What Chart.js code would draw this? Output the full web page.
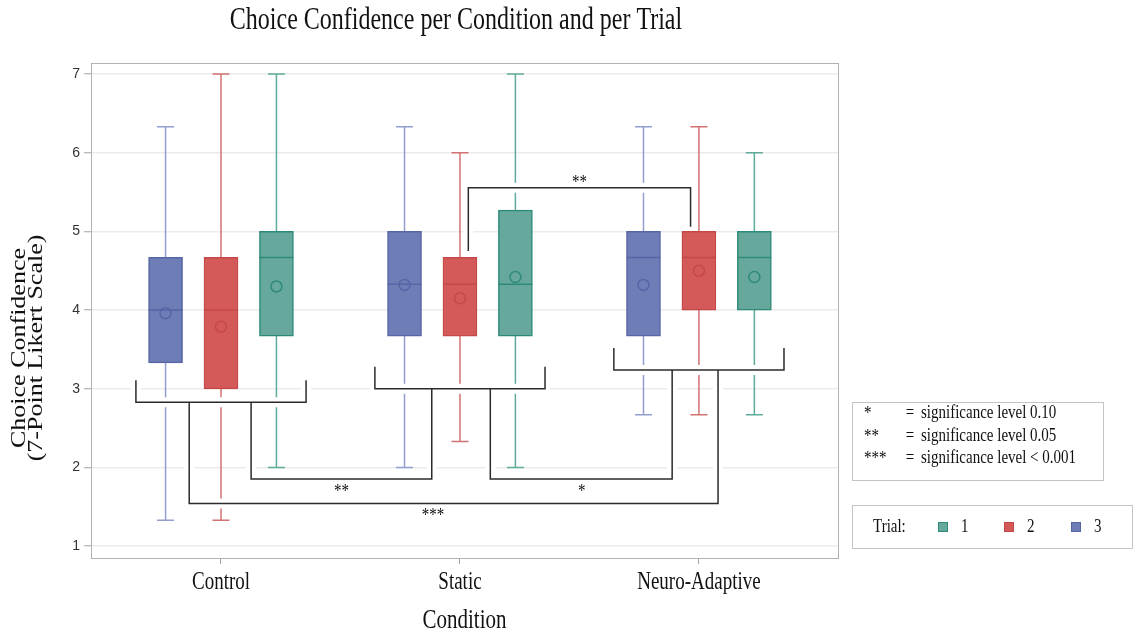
<!DOCTYPE html>
<html>
<head>
<meta charset="utf-8">
<script src="https://cdn.jsdelivr.net/npm/chart.js@4/dist/chart.umd.min.js"></script>
<style>
  html, body { margin: 0; padding: 0; background: #fff; }
  #wrap { width: 1133px; height: 631px; position: relative; }
</style>
</head>
<body>
<div id="wrap"><canvas id="chart"></canvas></div>
<script>
const CONDITIONS = ["Control", "Static", "Neuro-Adaptive"];
const TRIALS = ["1", "2", "3"];
const Y_TICKS = [1, 2, 3, 4, 5, 6, 7];

// box summaries per trial, one value per condition
const T1_MIN = [2.0, 2.0, 2.67];
const T1_Q1 = [3.67, 3.67, 4.0];
const T1_MED = [4.67, 4.33, 4.67];
const T1_Q3 = [5.0, 5.27, 5.0];
const T1_MAX = [7.0, 7.0, 6.0];
const T1_MEAN = [4.30, 4.42, 4.42];

const T2_MIN = [1.33, 2.33, 2.67];
const T2_Q1 = [3.0, 3.67, 4.0];
const T2_MED = [4.0, 4.33, 4.67];
const T2_Q3 = [4.67, 4.67, 5.0];
const T2_MAX = [7.0, 6.0, 6.33];
const T2_MEAN = [3.79, 4.15, 4.50];

const T3_MIN = [1.33, 2.0, 2.67];
const T3_Q1 = [3.33, 3.67, 3.67];
const T3_MED = [4.0, 4.33, 4.67];
const T3_Q3 = [4.67, 5.0, 5.0];
const T3_MAX = [6.33, 6.33, 6.33];
const T3_MEAN = [3.96, 4.32, 4.32];

// significance brackets (value units): low / high edge per condition
const GROUP_LOW = [2.83, 3.0, 3.24];
const GROUP_HIGH = [3.11, 3.28, 3.52];
// connectors between groups: polylines in (x, y) value pairs
const SIG_LINES = [
  { pts: [[1.126, 2.83], [1.126, 1.855], [1.882, 1.855], [1.882, 3.0]], label: "**", at: [1.504, 1.855], below: true },
  { pts: [[0.867, 2.83], [0.867, 1.543], [3.08, 1.543], [3.08, 3.24]], label: "***", at: [1.887, 1.543], below: true },
  { pts: [[2.127, 3.0], [2.127, 1.855], [2.888, 1.855], [2.888, 3.24]], label: "*", at: [2.51, 1.855], below: true },
  { pts: [[2.035, 4.75], [2.035, 5.555], [2.965, 5.555], [2.965, 5.06]], label: "**", at: [2.5, 5.555], below: false },
];
const SIG_NOTES = [
  ["*", "significance level 0.10"],
  ["**", "significance level 0.05"],
  ["***", "significance level < 0.001"],
];

const SERIF = "'Liberation Serif', 'Times New Roman', serif";
const SANS = "'Liberation Sans', Arial, sans-serif";
const STRETCH = 1.3;

const BOX_W = 34;
const CAP_W = 17;
const OFFSET = { "1": 0.232, "2": 0, "3": -0.232 };
const STYLE = {
  "1": { fill: "#67a89d", line: "#2e8a78", whisker: "#5eab9b" },
  "2": { fill: "#d45a5a", line: "#c44848", whisker: "#d27272" },
  "3": { fill: "#6e7db5", line: "#5565a6", whisker: "#939dcf" },
};

const stats = {
  "1": { min: T1_MIN, q1: T1_Q1, med: T1_MED, q3: T1_Q3, max: T1_MAX, mean: T1_MEAN },
  "2": { min: T2_MIN, q1: T2_Q1, med: T2_MED, q3: T2_Q3, max: T2_MAX, mean: T2_MEAN },
  "3": { min: T3_MIN, q1: T3_Q1, med: T3_MED, q3: T3_Q3, max: T3_MAX, mean: T3_MEAN },
};

const xOf = (t, i) => i + 1 + OFFSET[t];

const datasets = [];
for (const t of TRIALS) {
  const s = stats[t];
  datasets.push({
    type: "bar",
    label: t,
    order: 1,
    data: CONDITIONS.map((c, i) => ({ x: xOf(t, i), y: [s.q1[i], s.q3[i]] })),
    backgroundColor: STYLE[t].fill,
    borderColor: STYLE[t].line,
    borderWidth: 1.5,
    borderSkipped: false,
    barThickness: BOX_W,
    grouped: false,
  });
  datasets.push({
    type: "scatter",
    label: "mean " + t,
    order: 0,
    data: CONDITIONS.map((c, i) => ({ x: xOf(t, i), y: s.mean[i] })),
    pointStyle: "circle",
    pointRadius: 5.5,
    pointHoverRadius: 5.5,
    backgroundColor: "rgba(0,0,0,0)",
    borderColor: STYLE[t].line,
    borderWidth: 1.5,
  });
}

function text(ctx, str, x, y, o) {
  ctx.save();
  ctx.translate(x, y);
  ctx.scale(1, STRETCH);
  if (o.rotate) ctx.rotate(-Math.PI / 2);
  ctx.font = o.size + "px " + (o.family || SERIF);
  ctx.fillStyle = o.color || "#111";
  ctx.textAlign = o.align || "center";
  ctx.textBaseline = o.baseline || "middle";
  ctx.fillText(str, 0, 0);
  ctx.restore();
}

function polyline(ctx, pts) {
  ctx.beginPath();
  pts.forEach((p, k) => (k ? ctx.lineTo(p[0], p[1]) : ctx.moveTo(p[0], p[1])));
  ctx.stroke();
}

const boxPlot = {
  id: "boxPlot",
  beforeDatasetsDraw(chart) {
    const { ctx, scales: { x, y } } = chart;
    ctx.save();
    ctx.lineWidth = 1.5;
    for (const t of TRIALS) {
      const s = stats[t];
      ctx.strokeStyle = STYLE[t].whisker;
      CONDITIONS.forEach((c, i) => {
        const px = x.getPixelForValue(xOf(t, i));
        const segs = [[s.q3[i], s.max[i]], [s.q1[i], s.min[i]]];
        for (const [a, b] of segs) {
          const ya = y.getPixelForValue(a), yb = y.getPixelForValue(b);
          ctx.beginPath();
          ctx.moveTo(px, ya);
          ctx.lineTo(px, yb);
          ctx.moveTo(px - CAP_W / 2, yb);
          ctx.lineTo(px + CAP_W / 2, yb);
          ctx.stroke();
        }
      });
    }
    ctx.restore();
  },
  afterDatasetsDraw(chart) {
    const { ctx, chartArea: a, scales: { x, y } } = chart;
    ctx.save();
    // medians
    ctx.lineWidth = 1.5;
    for (const t of TRIALS) {
      const s = stats[t];
      ctx.strokeStyle = STYLE[t].line;
      CONDITIONS.forEach((c, i) => {
        const px = x.getPixelForValue(xOf(t, i));
        const py = y.getPixelForValue(s.med[i]);
        ctx.beginPath();
        ctx.moveTo(px - BOX_W / 2, py);
        ctx.lineTo(px + BOX_W / 2, py);
        ctx.stroke();
      });
    }

    // significance brackets, with a white halo that breaks lines underneath
    const paths = CONDITIONS.map((c, i) => {
      const l = x.getPixelForValue(i + 1 - 0.356), r = x.getPixelForValue(i + 1 + 0.356);
      const lo = y.getPixelForValue(GROUP_LOW[i]), hi = y.getPixelForValue(GROUP_HIGH[i]);
      return [[l, hi], [l, lo], [r, lo], [r, hi]];
    });
    SIG_LINES.forEach((s) => paths.push(s.pts.map((p) => [x.getPixelForValue(p[0]), y.getPixelForValue(p[1])])));
    ctx.lineJoin = "miter";
    ctx.lineCap = "butt";
    ctx.strokeStyle = "#fff";
    ctx.lineWidth = 10;
    paths.forEach((p) => polyline(ctx, p));
    ctx.strokeStyle = "#2b2b2b";
    ctx.lineWidth = 1.5;
    paths.forEach((p) => polyline(ctx, p));

    SIG_LINES.forEach((s) => {
      const px = x.getPixelForValue(s.at[0]);
      const py = y.getPixelForValue(s.at[1]);
      text(ctx, s.label, px, s.below ? py + 3 : py - 15, { size: 15, baseline: "top" });
    });

    // frame around the plot area
    ctx.strokeStyle = "#aeb2b5";
    ctx.lineWidth = 1;
    ctx.strokeRect(a.left + 0.5, a.top + 0.5, a.right - a.left, a.bottom - a.top);
    ctx.restore();
  },
  afterDraw(chart) {
    const { ctx, chartArea: a, scales: { x } } = chart;
    ctx.save();
    text(ctx, "Choice Confidence per Condition and per Trial", 456, 21, { size: 24 });
    text(ctx, "Choice Confidence", 20, 348, { size: 20, rotate: true });
    text(ctx, "(7-Point Likert Scale)", 37, 348, { size: 20, rotate: true });
    CONDITIONS.forEach((c, i) => text(ctx, c, x.getPixelForValue(i + 1), 583, { size: 19 }));
    text(ctx, "Condition", (a.left + a.right) / 2, 621, { size: 21 });

    // significance key
    ctx.strokeStyle = "#c4c4c4";
    ctx.lineWidth = 1;
    ctx.strokeRect(852.5, 402.5, 251, 78);
    SIG_NOTES.forEach((n, k) => {
      const ly = 413 + k * 22.5;
      text(ctx, n[0], 864, ly + 1, { size: 15, align: "left" });
      text(ctx, "=", 910, ly, { size: 15 });
      text(ctx, n[1], 921, ly, { size: 15, align: "left" });
    });

    // trial key
    ctx.strokeRect(852.5, 505.5, 280, 43);
    text(ctx, "Trial:", 873, 527, { size: 15, align: "left" });
    const keyX = [943, 1009, 1076];
    TRIALS.forEach((t, k) => {
      ctx.fillStyle = STYLE[t].fill;
      ctx.strokeStyle = STYLE[t].line;
      ctx.fillRect(keyX[k] - 5, 522, 10, 10);
      ctx.strokeRect(keyX[k] - 4.5, 522.5, 9, 9);
      text(ctx, t, keyX[k] + 18, 527, { size: 15, align: "left" });
    });
    ctx.restore();
  },
};

new Chart(document.getElementById("chart"), {
  type: "bar",
  data: { datasets },
  options: {
    responsive: true,
    maintainAspectRatio: false,
    animation: false,
    layout: { padding: { left: 0, right: 295, top: 63, bottom: 0 } },
    plugins: { legend: { display: false }, tooltip: { enabled: false }, title: { display: false } },
    scales: {
      x: {
        type: "linear",
        offset: false,
        min: 0.456,
        max: 3.582,
        afterBuildTicks: (s) => { s.ticks = CONDITIONS.map((c, i) => ({ value: i + 1 })); },
        afterFit: (s) => { s.height = 73; },
        ticks: { display: false },
        grid: { display: true, offset: false, drawOnChartArea: false, drawTicks: true, tickLength: 6, tickColor: "#a0a4a8", tickWidth: 1 },
        border: { display: false },
      },
      y: {
        type: "linear",
        min: 0.85,
        max: 7.14,
        afterBuildTicks: (s) => { s.ticks = Y_TICKS.map((v) => ({ value: v })); },
        afterFit: (s) => { s.width = 91; },
        ticks: { font: { family: SANS, size: 14 }, color: "#333", padding: 4 },
        grid: { color: "#ebebeb", lineWidth: 1.5, tickLength: 7, tickColor: "#a0a4a8", tickWidth: 1 },
        border: { display: false },
      },
    },
  },
  plugins: [boxPlot],
});
</script>
</body>
</html>
